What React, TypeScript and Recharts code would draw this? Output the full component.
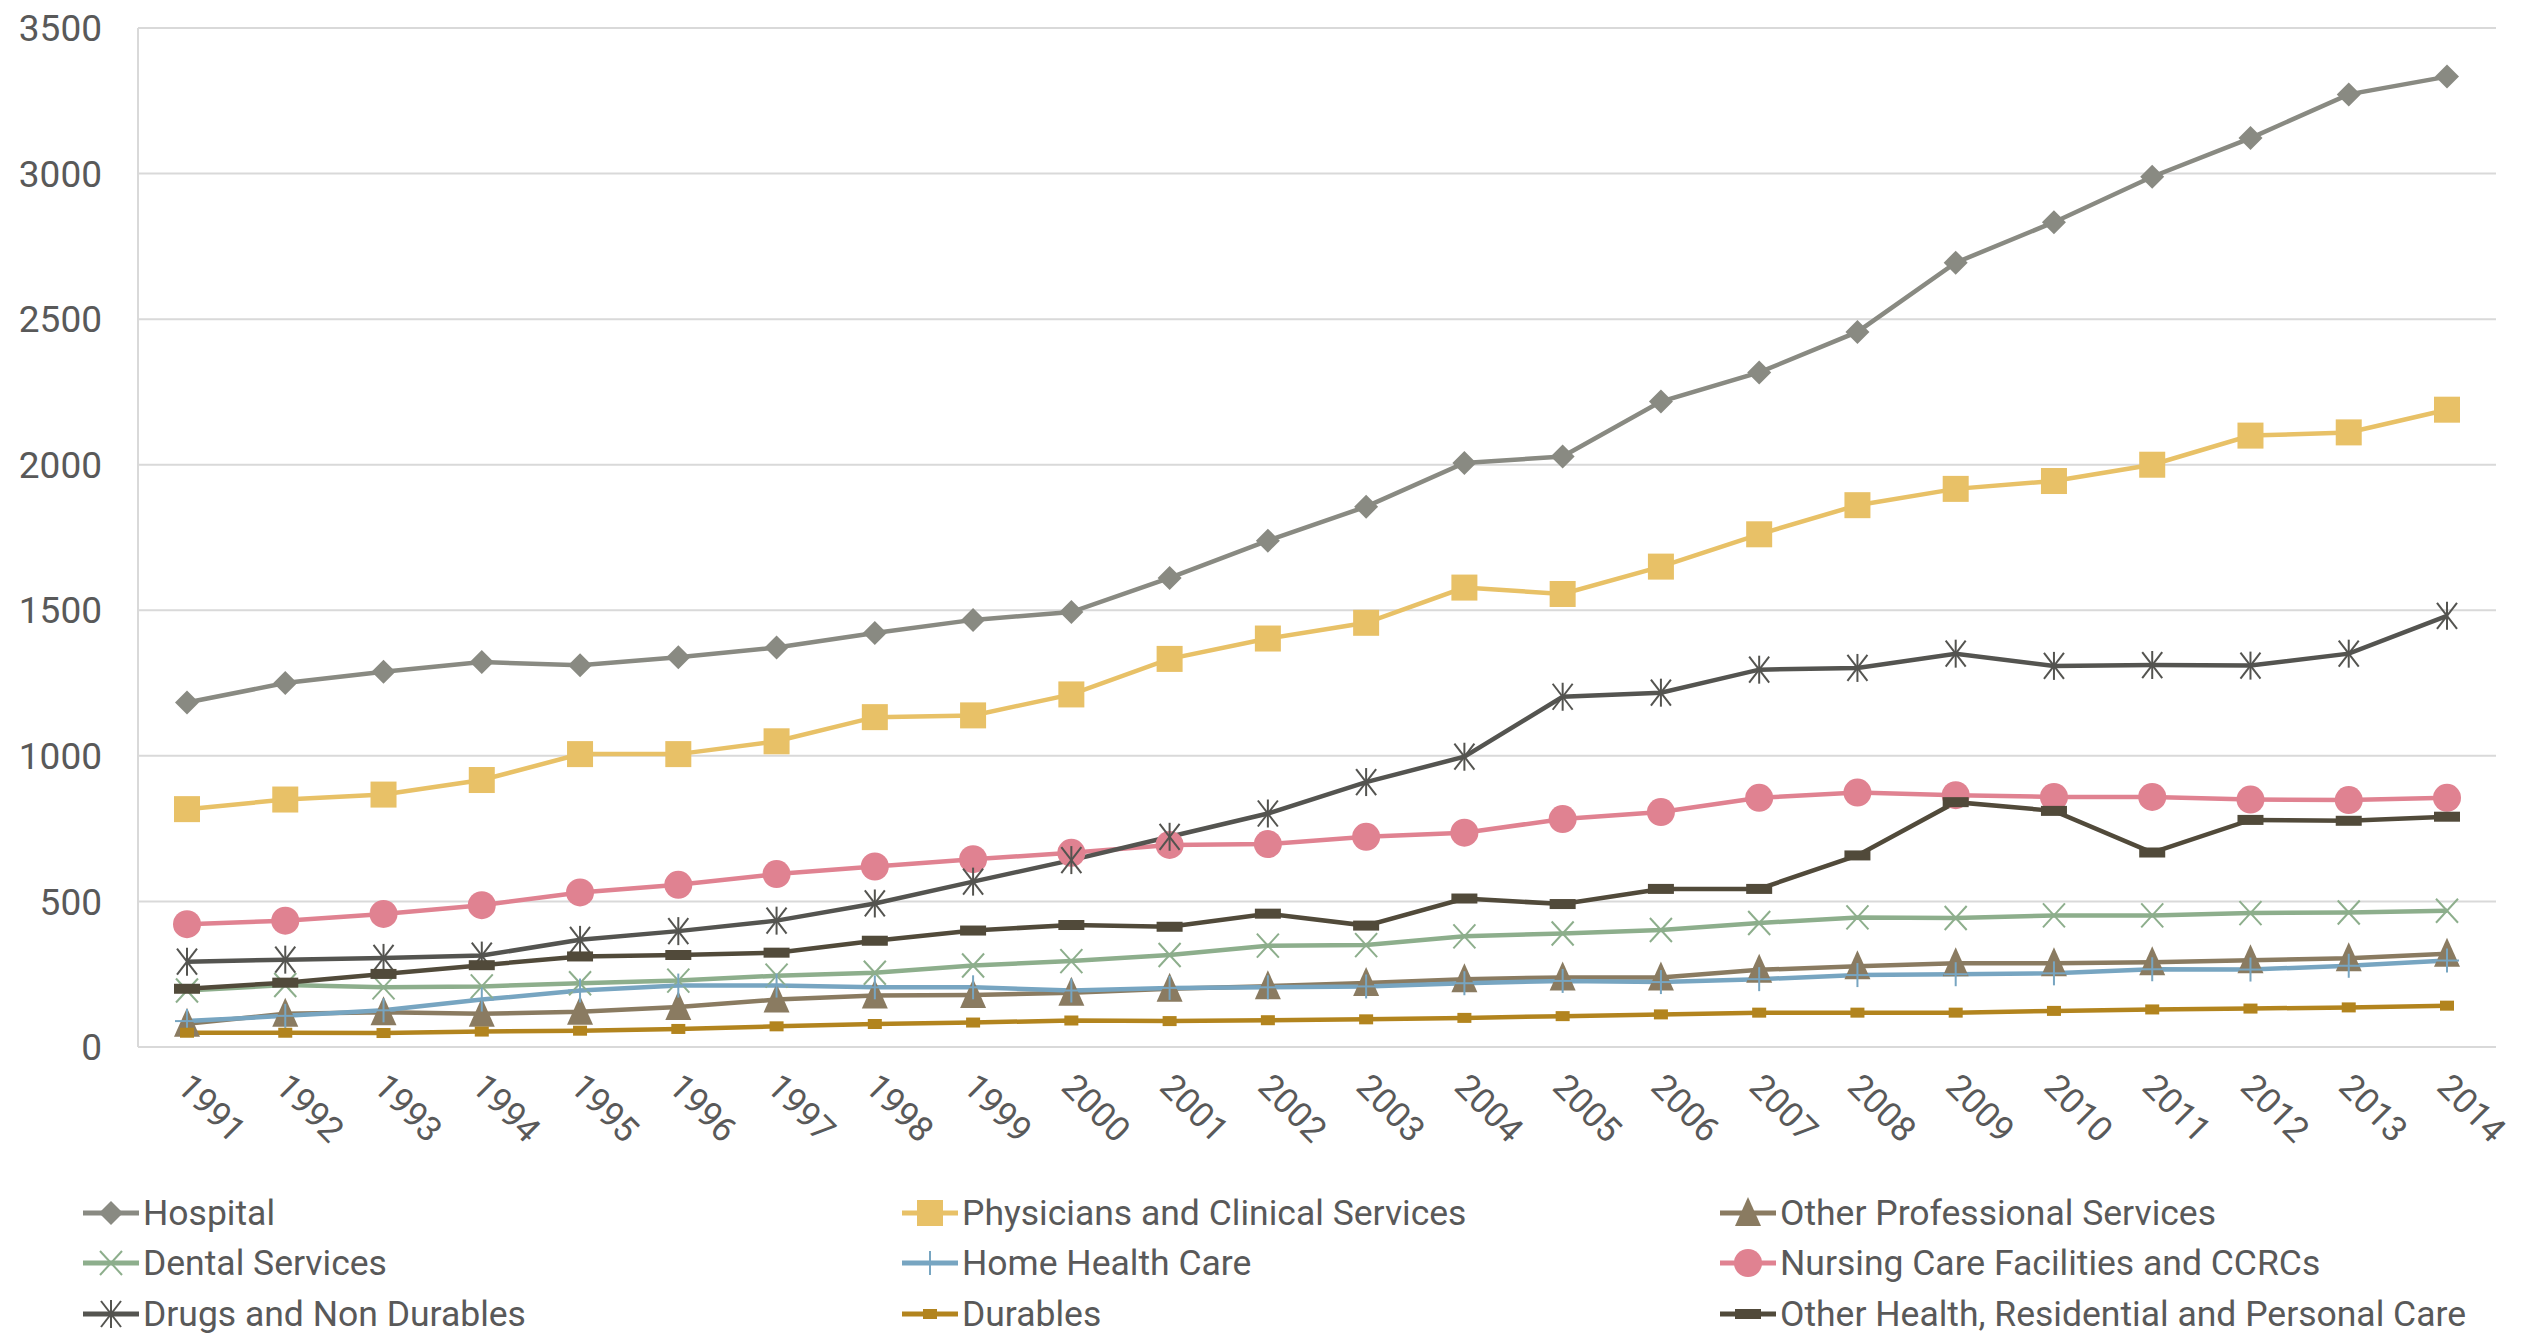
import React from "react";
import {
  LineChart,
  Line,
  XAxis,
  YAxis,
  CartesianGrid,
} from "recharts";

const years = [
  "1991", "1992", "1993", "1994", "1995", "1996", "1997", "1998",
  "1999", "2000", "2001", "2002", "2003", "2004", "2005", "2006",
  "2007", "2008", "2009", "2010", "2011", "2012", "2013", "2014",
];

const hospital = [
  1183, 1250, 1289, 1322, 1311, 1339, 1372, 1422, 1467, 1494, 1611, 1739,
  1856, 2006, 2028, 2217, 2317, 2456, 2694, 2833, 2989, 3122, 3272, 3333,
];
const physicians = [
  817, 850, 867, 917, 1006, 1006, 1050, 1133, 1139, 1211, 1333, 1403,
  1457, 1578, 1556, 1650, 1761, 1861, 1917, 1944, 2000, 2100, 2111, 2189,
];
const otherProfessional = [
  80, 114, 119, 114, 121, 137, 163, 177, 179, 186, 200, 209,
  220, 233, 239, 239, 265, 277, 288, 288, 291, 298, 305, 320,
];
const dental = [
  194, 213, 205, 208, 219, 228, 245, 255, 280, 295, 316, 348,
  350, 380, 390, 402, 426, 445, 443, 452, 452, 460, 462, 468,
];
const homeHealth = [
  89, 107, 126, 163, 194, 211, 211, 205, 205, 194, 203, 205,
  208, 219, 227, 223, 233, 247, 250, 253, 267, 266, 279, 297,
];
const nursing = [
  422, 434, 457, 487, 531, 557, 594, 620, 645, 667, 694, 697,
  722, 736, 783, 807, 856, 874, 865, 859, 859, 850, 848, 856,
];
const drugs = [
  293, 300, 306, 314, 368, 398, 434, 493, 568, 642, 722, 802,
  910, 997, 1203, 1217, 1296, 1302, 1351, 1309, 1312, 1310, 1351, 1481,
];
const durables = [
  49, 49, 48, 53, 56, 62, 71, 79, 84, 91, 89, 92,
  95, 100, 106, 112, 118, 118, 118, 124, 129, 132, 136, 142,
];
const otherHealth = [
  200, 221, 251, 281, 311, 316, 324, 365, 400, 419, 413, 458,
  417, 510, 491, 543, 543, 658, 841, 811, 668, 780, 777, 791,
];

const yTicks = [0, 500, 1000, 1500, 2000, 2500, 3000, 3500];

const series = [
  { key: "hospital", name: "Hospital", values: hospital, color: "#898A82", marker: "diamond" },
  { key: "physicians", name: "Physicians and Clinical Services", values: physicians, color: "#E8C167", marker: "square" },
  { key: "otherProfessional", name: "Other Professional Services", values: otherProfessional, color: "#8A7B61", marker: "triangle" },
  { key: "dental", name: "Dental Services", values: dental, color: "#8DAE8C", marker: "x" },
  { key: "homeHealth", name: "Home Health Care", values: homeHealth, color: "#77A5C1", marker: "plus" },
  { key: "nursing", name: "Nursing Care Facilities and CCRCs", values: nursing, color: "#E08291", marker: "circle" },
  { key: "drugs", name: "Drugs and Non Durables", values: drugs, color: "#545450", marker: "star" },
  { key: "durables", name: "Durables", values: durables, color: "#B2841E", marker: "smallDash" },
  { key: "otherHealth", name: "Other Health, Residential and Personal Care", values: otherHealth, color: "#514A3A", marker: "dash" },
];

const data = years.map((year, i) => {
  const row: Record<string, string | number> = { year };
  series.forEach((s) => {
    row[s.key] = s.values[i];
  });
  return row;
});

const FONT = "Roboto, 'Liberation Sans', sans-serif";
const TEXT = "#595959";
const GRID = "#D9D9D9";

function Marker({ type, cx, cy, color }: { type: string; cx: number; cy: number; color: string }) {
  switch (type) {
    case "diamond":
      return (
        <polygon
          points={`${cx},${cy - 12} ${cx + 12},${cy} ${cx},${cy + 12} ${cx - 12},${cy}`}
          fill={color}
        />
      );
    case "square":
      return <rect x={cx - 13} y={cy - 13} width={26} height={26} fill={color} />;
    case "triangle":
      return (
        <polygon
          points={`${cx},${cy - 16} ${cx + 13},${cy + 13} ${cx - 13},${cy + 13}`}
          fill={color}
        />
      );
    case "circle":
      return <circle cx={cx} cy={cy} r={14} fill={color} />;
    case "x":
      return (
        <g stroke={color} strokeWidth={2}>
          <line x1={cx - 11} y1={cy - 12} x2={cx + 11} y2={cy + 12} />
          <line x1={cx + 11} y1={cy - 12} x2={cx - 11} y2={cy + 12} />
        </g>
      );
    case "plus":
      return (
        <g stroke={color} strokeWidth={2}>
          <line x1={cx} y1={cy - 12} x2={cx} y2={cy + 12} />
          <line x1={cx - 12} y1={cy} x2={cx + 12} y2={cy} />
        </g>
      );
    case "star":
      return (
        <g stroke={color} strokeWidth={2}>
          <line x1={cx} y1={cy - 14} x2={cx} y2={cy + 14} />
          <line x1={cx - 10} y1={cy - 13} x2={cx + 10} y2={cy + 13} />
          <line x1={cx + 10} y1={cy - 13} x2={cx - 10} y2={cy + 13} />
        </g>
      );
    case "smallDash":
      return <rect x={cx - 7} y={cy - 5} width={14} height={10} fill={color} />;
    case "dash":
      return <rect x={cx - 13} y={cy - 5} width={26} height={10} fill={color} />;
    default:
      return null;
  }
}

function YearTick(props: any) {
  const { x, y, payload } = props;
  return (
    <g transform={`translate(${x - 3},${y + 33})`}>
      <text
        transform="rotate(45)"
        x={0}
        y={0}
        dy="0.35em"
        textAnchor="start"
        fill={TEXT}
        fontSize={35}
        fontFamily={FONT}
      >
        {payload.value}
      </text>
    </g>
  );
}

const legendCols = [143, 962, 1780];
const legendRows = [1213, 1263, 1314];

function LegendBlock() {
  return (
    <>
      {series.map((s, i) => {
        const left = legendCols[i % 3];
        const top = legendRows[Math.floor(i / 3)];
        return (
          <div
            key={s.key}
            style={{
              position: "absolute",
              left: left - 60,
              top: top - 22,
              height: 44,
              display: "flex",
              alignItems: "center",
              fontFamily: FONT,
              fontSize: 35.5,
              color: TEXT,
              whiteSpace: "nowrap",
            }}
          >
            <svg width={60} height={44}>
              <line x1={0} y1={22} x2={56} y2={22} stroke={s.color} strokeWidth={5} />
              <Marker type={s.marker} cx={28} cy={22} color={s.color} />
            </svg>
            <span>{s.name}</span>
          </div>
        );
      })}
    </>
  );
}

export default function App() {
  return (
    <div
      style={{
        position: "absolute",
        left: 0,
        top: 0,
        width: 2534,
        height: 1333,
        background: "#ffffff",
      }}
    >
      <LineChart
        width={2534}
        height={1333}
        data={data}
        margin={{ top: 28, right: 38, bottom: 146, left: 0 }}
      >
        <CartesianGrid vertical={false} stroke={GRID} strokeWidth={2} />
        <XAxis
          dataKey="year"
          height={140}
          padding={{ left: 49, right: 49 }}
          axisLine={{ stroke: GRID, strokeWidth: 2 }}
          tickLine={false}
          tickSize={0}
          tickMargin={0}
          interval={0}
          tick={<YearTick />}
        />
        <YAxis
          width={138}
          domain={[0, 3500]}
          ticks={yTicks}
          axisLine={{ stroke: GRID, strokeWidth: 2 }}
          tickLine={false}
          tickSize={0}
          tickMargin={36}
          tick={{ fill: TEXT, fontSize: 37, fontFamily: FONT }}
        />
        {series.map((s) => (
          <Line
            key={s.key}
            type="linear"
            dataKey={s.key}
            name={s.name}
            stroke={s.color}
            strokeWidth={4.5}
            isAnimationActive={false}
            dot={(p: any) => (
              <Marker
                key={`${s.key}-${p.index}`}
                type={s.marker}
                cx={p.cx}
                cy={p.cy}
                color={s.color}
              />
            )}
            activeDot={false}
          />
        ))}
      </LineChart>
      <LegendBlock />
    </div>
  );
}
